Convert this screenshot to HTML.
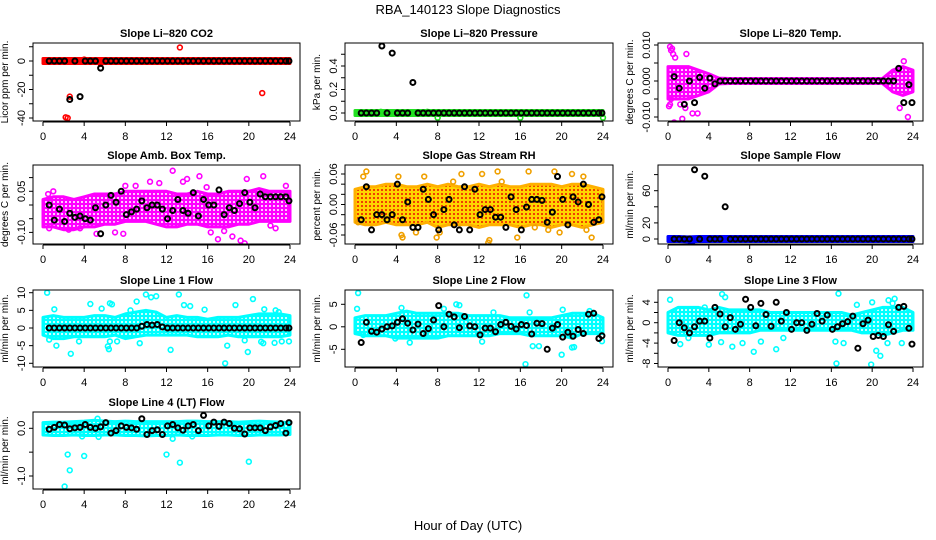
<!DOCTYPE html>
<html><head><meta charset="utf-8"><style>
html,body{margin:0;padding:0;background:#fff}
svg{display:block;font-family:"Liberation Sans",sans-serif}
</style></head><body>
<svg id="chart" width="936" height="540" viewBox="0 0 936 540" xmlns="http://www.w3.org/2000/svg">
<text x="468" y="14" font-size="13" text-anchor="middle">RBA_140123  Slope Diagnostics</text>
<text x="468" y="530" font-size="13" text-anchor="middle">Hour of Day (UTC)</text>
</svg>
<script>
const blackT=[0.6,1.1,1.6,2.1,2.6,3.1,3.6,4.1,4.6,5.1,5.6,6.1,6.6,7.1,7.6,8.1,8.6,9.1,9.6,10.1,10.6,11.1,11.6,12.1,12.6,13.1,13.6,14.1,14.6,15.1,15.6,16.1,16.6,17.1,17.6,18.1,18.6,19.1,19.6,20.1,20.6,21.1,21.6,22.1,22.6,23.1,23.6,23.9];
const bandT=[0,1,2,3,4,5,6,7,8,9,10,11,12,13,14,15,16,17,18,19,20,21,22,23,24];
const xTicks=[0,4,8,12,16,20,24];

const co2Black=[0,0,0,0,-27,0,-25,0,0,0,-5,0,0,0,0,0,0,0,0,0,0,0,0,0,0,0,0,0,0,0,0,0,0,0,0,0,0,0,0,0,0,0,0,0,0,0,0,0];
const co2Lo=[-1.5,-1.5,-1.5,-1.5,-1.5,-1.5,-1.5,-1.5,-1.5,-1.5,-1.5,-1.5,-1.5,-1.5,-1.5,-1.5,-1.5,-1.5,-1.5,-1.5,-1.5,-1.5,-1.5,-1.5,-1.5];
const co2Hi=[1.5,1.5,1.5,1.5,1.5,1.5,1.5,1.5,1.5,1.5,1.5,1.5,1.5,1.5,1.5,1.5,1.5,1.5,1.5,1.5,1.5,1.5,1.5,1.5,1.5];
const co2OutX=[2.2,2.4,2.6,13.3,21.3,5.6,4.0];
const co2OutY=[-39.5,-40,-25,9.5,-22.5,-2,1];

const presBlack=[0,0,0,0,0.57,0,0.51,0,0,0,0.26,0,0,0,0,0,0,0,0,0,0,0,0,0,0,0,0,0,0,0,0,0,0,0,0,0,0,0,0,0,0,0,0,0,0,0,0,0];
const presLo=[-0.012,-0.012,-0.012,-0.012,-0.012,-0.012,-0.012,-0.012,-0.012,-0.012,-0.012,-0.012,-0.012,-0.012,-0.012,-0.012,-0.012,-0.012,-0.012,-0.012,-0.012,-0.012,-0.012,-0.012,-0.012];
const presHi=[0.012,0.012,0.012,0.012,0.012,0.012,0.012,0.012,0.012,0.012,0.012,0.012,0.012,0.012,0.012,0.012,0.012,0.012,0.012,0.012,0.012,0.012,0.012,0.012,0.012];
const presOutX=[8,16,24,2.5,7];
const presOutY=[-0.04,-0.04,-0.04,0.01,0.01];

const tempBlack=[0.0012,-0.002,-0.0065,0,-0.006,0.001,-0.002,0.0008,-0.0008,0,0,0,0,0,0,0,0,0,0,0,0,0,0,0,0,0,0,0,0,0,0,0,0,0,0,0,0,0,0,0,0,0,0,0,0.0035,-0.006,-0.001,-0.006];
const tempLo=[-0.005,-0.005,-0.005,-0.004,-0.003,-0.0008,-0.0007,-0.0007,-0.0007,-0.0007,-0.0007,-0.0007,-0.0007,-0.0007,-0.0007,-0.0007,-0.0007,-0.0007,-0.0007,-0.0007,-0.0007,-0.0007,-0.003,-0.004,-0.003];
const tempHi=[0.004,0.004,0.004,0.003,0.002,0.0008,0.0007,0.0007,0.0007,0.0007,0.0007,0.0007,0.0007,0.0007,0.0007,0.0007,0.0007,0.0007,0.0007,0.0007,0.0007,0.0007,0.003,0.004,0.003];
const tempOutX=[0.2,0.3,0.5,0.7,0.6,1.4,1.8,0.1,0.3,2.4,2.9,23.5,23.1,22.7,0.4,0.2,1.2,1.7];
const tempOutY=[0.0095,0.0085,0.0075,0.0065,-0.0115,-0.0105,0.0075,-0.007,-0.005,-0.009,-0.009,-0.010,0.0055,-0.0075,0.009,-0.0065,-0.0065,-0.0075];

const ambBlack=[0,-0.055,-0.015,-0.06,-0.03,-0.045,-0.04,-0.05,-0.055,-0.01,-0.105,0,0.035,0.01,0.05,-0.035,-0.025,-0.015,0.015,-0.01,0,0,-0.015,-0.05,-0.02,0.02,-0.02,-0.03,0.045,-0.04,0.02,0,0,0.055,-0.035,-0.01,-0.02,0.005,0.045,0.01,-0.01,0.04,0.03,0.03,0.03,0.03,0.03,0.015];
const ambLo=[-0.08,-0.08,-0.09,-0.09,-0.08,-0.08,-0.07,-0.07,-0.06,-0.06,-0.06,-0.07,-0.08,-0.08,-0.07,-0.07,-0.08,-0.08,-0.08,-0.07,-0.07,-0.06,-0.06,-0.06,-0.06];
const ambHi=[0.02,0.03,0.03,0.02,0.03,0.04,0.04,0.04,0.05,0.05,0.05,0.05,0.05,0.04,0.04,0.05,0.04,0.04,0.05,0.05,0.05,0.06,0.05,0.05,0.05];
const ambOutX=[0.6,5.2,7,7.8,12.6,15.2,21.4,19.8,14,10.4,17,18.4,19.2,19.6,22.1,22.6,3.6,23.6,8,9,1,0.5,2.5,16.3,17.6,11.3,13.6,15.9];
const ambOutY=[-0.085,-0.105,-0.1,-0.105,0.125,0.105,0.105,0.095,0.095,0.085,-0.125,-0.115,-0.13,-0.14,-0.075,-0.085,-0.085,0.07,0.07,0.07,0.05,0.04,-0.09,-0.1,-0.095,0.08,0.085,0.065];

const rhBlack=[-0.03,0.035,-0.05,-0.02,-0.02,-0.03,-0.02,0.04,-0.03,0.005,-0.045,-0.045,0.03,0.01,-0.02,-0.05,-0.01,0.01,-0.04,-0.05,0.035,-0.05,0.03,-0.02,-0.01,-0.01,-0.025,-0.025,-0.045,0.015,-0.01,-0.05,-0.005,0.01,0.01,0.008,-0.035,-0.015,0.055,0.01,-0.04,0.015,0.005,0.04,0,-0.035,-0.03,0.015];
const rhLo=[-0.035,-0.04,-0.04,-0.035,-0.04,-0.04,-0.04,-0.035,-0.045,-0.04,-0.04,-0.04,-0.045,-0.04,-0.04,-0.04,-0.045,-0.04,-0.04,-0.045,-0.04,-0.04,-0.045,-0.04,-0.035];
const rhHi=[0.03,0.035,0.035,0.04,0.04,0.035,0.035,0.04,0.035,0.04,0.035,0.035,0.04,0.035,0.04,0.035,0.035,0.04,0.04,0.04,0.035,0.04,0.04,0.035,0.03];
const rhOutX=[1.1,0.8,4.2,6.7,10.3,13.8,14.2,16.8,19.3,21,22.1,12.3,16.4,13,12.9,15.7,7.9,8.2,5.9,4.5,4.6,19.8,22.9,22.4,0.3,17.4,18.7,9.5];
const rhOutY=[0.065,0.055,0.055,0.055,0.06,0.065,0.045,0.065,0.065,0.06,0.055,0.06,-0.09,-0.07,-0.075,-0.065,-0.065,-0.055,-0.055,-0.06,-0.065,-0.055,-0.065,-0.05,-0.035,-0.045,-0.05,0.045];

const flowBlack=[0,0,0,0,86,0,78,0,0,0,40,0,0,0,0,0,0,0,0,0,0,0,0,0,0,0,0,0,0,0,0,0,0,0,0,0,0,0,0,0,0,0,0,0,0,0,0,0];
const flowLo=[-2,-2,-3,-2,-2,-2,-2,-2,-2,-2,-2,-2,-2,-2,-2,-2,-2,-2,-2,-2,-2,-2,-2,-2,-2];
const flowHi=[2,2,2,2,2,2,2,2,2,2,2,2,2,2,2,2,2,2,2,2,2,2,2,2,2];
const flowOutX=[2.2,2.4];
const flowOutY=[-3,-3];

const l1Black=[0,0,0,0,0,0,0,0,0,0,0,0,0,0,0,0,0,0,0.5,1,0.8,1,0.3,0,0,0,0,0,0,0,0,0,0,0,0,0,0,0,0,0,0,0,0,0,0,0,0,0];
const l1Lo=[-2,-3,-3,-2.5,-2.5,-2.5,-2.5,-2,-3,-2.5,-2,-2,-2,-2,-2,-2.5,-2.5,-2.5,-2,-2.5,-2.5,-2.5,-2.5,-2.5,-2];
const l1Hi=[3,3.5,3,3,3,3.5,3.5,3,4,4.5,5,4.5,3,3.5,3,3,2.5,3,3,3,3.5,4,4,4,3.5];
const l1OutX=[0.4,10,10.5,11,13.2,9.1,4.6,6.5,6.7,13.7,14.3,18.7,20.4,1.1,5.7,8.5,0.6,1.3,2.7,3.5,6.3,6.4,6.5,7.2,9.4,12.4,17.7,17.9,19.9,19.6,21.2,21.4,22.5,23.2,23.9,22.6,21.5,15.7,22.9];
const l1OutY=[10,9.5,8.7,9,9.5,7.5,6.8,7,6.7,6.5,6.2,6.5,8.2,5.3,5.5,5,-3.3,-5,-7.3,-3.8,-5.2,-6,-3.8,-3.8,-4.3,-6.2,-10,-5,-6.8,-3.5,-3.9,-4.3,-4.2,-3.8,-3.8,5,5.3,5.2,4.5];

const l2Black=[-3.5,1,-1,-1.2,-0.5,0,0.2,1,1.8,0.8,-0.7,0.6,-1.5,-0.4,1.5,4.7,0,2.8,2.2,-0.2,2.3,0.2,0,-1.8,-0.3,-0.3,-1.1,0.5,1,0.1,-0.5,0.5,0.3,-1.6,0.8,0.7,-5,-0.3,0.5,-2.3,-1.2,-2.1,-0.6,-1.5,2.8,3,-2.6,-2];
const l2Lo=[-1.5,-2,-2,-2,-2.5,-2.5,-2.5,-2.5,-2.5,-2,-2,-2,-2,-2,-1.5,-1.5,-1.5,-2,-2,-2,-2,-2.5,-1.5,-1.5,-1.5];
const l2Hi=[2,2.5,2.5,2.5,3,3.5,3,3,3,3,3,2.5,2.5,2.5,2.5,2,2,2,2,2,2.5,3,3,3,2];
const l2OutX=[0.3,0.2,16.6,16.5,20,9.8,10.1,17.2,17.8,21,21.2,12.3,5.3,16.9,20.1,0.8,23.9,22.7,4.5,13.4,8.6,3.9];
const l2OutY=[7.5,4,7,-8.3,-6.2,5,4.8,-4.3,-4.3,-4.6,-4.5,-3.3,-3.5,3.2,3.8,-1.8,-3.2,3.5,4.2,3.2,4,-2.6];

const l3Black=[-3.5,0,-1,-2,-0.8,0.3,0.3,-3,3,1.7,-0.8,1,-1.3,-0.3,4.6,3,-0.6,3.8,1.6,-0.7,4,0.3,2,-1.3,0,0,-1.5,-0.3,1.8,0.3,1.5,-1.3,-0.8,-0.2,0.2,1.3,-5,-0.2,0.5,-2.7,-2.5,-2.7,-0.4,-1.7,3,3.2,-1.1,-4.2];
const l3Lo=[-2,-2.5,-2.5,-2.5,-2.5,-2,-2,-2,-2,-1.5,-1.5,-1.5,-1.5,-1.5,-1.5,-1.5,-1.5,-1.5,-1.5,-2,-2,-2.5,-2,-1.5,-1.5];
const l3Hi=[2,3,3,3,2.5,3,2.5,2.5,2.5,2.5,2,2,2,2,2,2,2,2,1.5,2,2.5,3,3,3,2];
const l3OutX=[0.2,5.3,5.6,16.7,16.5,19.9,20.8,20.4,4,1.2,8.4,10.6,6.3,7.3,9.1,22.2,22,20,18.5,16.4,17.2,21.5,22.9,2,5.2,3.6,11.3,21.6];
const l3OutY=[4.5,5.6,5,5.7,-8,-8.2,-6.5,-5.5,-4.3,-4.2,-5.7,-5.2,-4.7,-4,-3.7,4.7,3.8,4,3.5,-3.7,-4,-4,-4,-3,-3.8,3,-3,4.4];

const l4Black=[-0.02,0.02,0.08,0.07,-0.01,0.01,0.02,0.08,0.02,0,0.03,0.12,-0.1,-0.05,0.05,0.02,0.01,-0.02,0.2,-0.13,-0.05,-0.03,-0.13,0.05,0.08,0.01,-0.04,0.05,0.08,-0.05,0.27,0.05,0.13,0.04,0.13,0.1,0,-0.01,-0.12,0.01,0.01,0.01,-0.05,0.03,0.06,0.1,-0.1,0.12];
const l4Lo=[-0.14,-0.15,-0.15,-0.14,-0.15,-0.15,-0.14,-0.14,-0.15,-0.15,-0.16,-0.15,-0.15,-0.14,-0.15,-0.15,-0.15,-0.14,-0.14,-0.15,-0.15,-0.14,-0.14,-0.14,-0.13];
const l4Hi=[0.12,0.13,0.13,0.14,0.15,0.17,0.15,0.14,0.15,0.14,0.14,0.14,0.14,0.14,0.15,0.15,0.14,0.14,0.14,0.13,0.14,0.15,0.14,0.13,0.12];
const l4OutX=[2.4,2.6,2.1,4,12,13.3,20,12.6,5.4,3.8,5.3,14.5];
const l4OutY=[-0.55,-0.88,-1.22,-0.58,-0.55,-0.72,-0.7,-0.22,-0.18,-0.17,0.2,-0.17];

const panels=[
 {id:'co2',title:'Slope Li\u2013820 CO2',ylab:'Licor ppm per min.',col:0,row:0,color:'#ff0000',kind:'solid',black:co2Black,lo:co2Lo,hi:co2Hi,ox:co2OutX,oy:co2OutY,ticks:[10,0,-10,-20,-30,-40],labels:['','0','','-20','','-40'],ref:[0,61,-40,118]},
 {id:'pressure',title:'Slope Li\u2013820 Pressure',ylab:'kPa per min.',col:1,row:0,color:'#22e022',kind:'solid',black:presBlack,lo:presLo,hi:presHi,ox:presOutX,oy:presOutY,ticks:[0,0.1,0.2,0.3,0.4,0.5],labels:['0.0','','0.2','','0.4',''],ref:[0,113,0.4,66]},
 {id:'temp',title:'Slope Li\u2013820 Temp.',ylab:'degrees C per min.',col:2,row:0,color:'#ff00ff',kind:'pat',black:tempBlack,lo:tempLo,hi:tempHi,ox:tempOutX,oy:tempOutY,ticks:[-0.01,-0.005,0,0.005,0.01],labels:['-0.010','','0.000','','0.010'],ref:[0,81,0.01,45]},
 {id:'ambbox',title:'Slope Amb. Box Temp.',ylab:'degrees C per min.',col:0,row:1,color:'#ff00ff',kind:'pat',black:ambBlack,lo:ambLo,hi:ambHi,ox:ambOutX,oy:ambOutY,ticks:[-0.1,-0.05,0,0.05,0.1],labels:['-0.10','','','0.05',''],ref:[0,205,0.05,191.3]},
 {id:'rh',title:'Slope Gas Stream RH',ylab:'percent per min.',col:1,row:1,color:'#ffd000',kind:'rh',black:rhBlack,lo:rhLo,hi:rhHi,ox:rhOutX,oy:rhOutY,ticks:[-0.06,-0.04,-0.02,0,0.02,0.04,0.06],labels:['-0.06','','','0.00','','','0.06'],ref:[0,204.5,0.06,174]},
 {id:'sampleflow',title:'Slope Sample Flow',ylab:'ml/min per min.',col:2,row:1,color:'#0000ff',kind:'solid',black:flowBlack,lo:flowLo,hi:flowHi,ox:flowOutX,oy:flowOutY,ticks:[0,20,40,60,80],labels:['0','20','','60',''],ref:[0,239,60,190.7]},
 {id:'line1',title:'Slope Line 1 Flow',ylab:'ml/min per min.',col:0,row:2,color:'#00ffff',kind:'pat',black:l1Black,lo:l1Lo,hi:l1Hi,ox:l1OutX,oy:l1OutY,ticks:[-10,-5,0,5,10],labels:['-10','-5','0','5','10'],ref:[0,328,10,292.7]},
 {id:'line2',title:'Slope Line 2 Flow',ylab:'ml/min per min.',col:1,row:2,color:'#00ffff',kind:'pat',black:l2Black,lo:l2Lo,hi:l2Hi,ox:l2OutX,oy:l2OutY,ticks:[-5,0,5],labels:['-5','0','5'],ref:[0,326.8,5,304.3]},
 {id:'line3',title:'Slope Line 3 Flow',ylab:'ml/min per min.',col:2,row:2,color:'#00ffff',kind:'pat',black:l3Black,lo:l3Lo,hi:l3Hi,ox:l3OutX,oy:l3OutY,ticks:[-8,-6,-4,-2,0,2,4],labels:['-8','','-4','','0','','4'],ref:[0,322.7,4,302.3]},
 {id:'line4',title:'Slope Line 4 (LT) Flow',ylab:'ml/min per min.',col:0,row:3,color:'#00ffff',kind:'pat',black:l4Black,lo:l4Lo,hi:l4Hi,ox:l4OutX,oy:l4OutY,ticks:[-1,-0.5,0],labels:['-1.0','','0.0'],ref:[0,428.3,-1,476]}
];
const cols=[{l:33,r:300,x0:43,x24:290},{l:345,r:613,x0:355,x24:603},{l:658,r:923,x0:668,x24:913}];
const rows=[{t:43,b:121},{t:165,b:244},{t:290,b:367},{t:412,b:489}];

const NS='http://www.w3.org/2000/svg';
const svg=document.getElementById('chart');
function mk(tag,attrs,parent){const e=document.createElementNS(NS,tag);for(const k in attrs)e.setAttribute(k,attrs[k]);(parent||svg).appendChild(e);return e;}
const defs=mk('defs',{});
function ringPattern(id,color,dot){
  const p=mk('pattern',{id:id,width:4,height:4,patternUnits:'userSpaceOnUse'},defs);
  mk('rect',{x:0,y:0,width:4,height:4,fill:color},p);
  mk('rect',{x:1,y:1,width:2,height:2,fill:dot},p);
}
ringPattern('pat-ff00ff','#ff00ff','#ffc8ff');
ringPattern('pat-00ffff','#00ffff','#c8ffff');
(function(){const p=mk('pattern',{id:'pat-rh',width:4,height:4,patternUnits:'userSpaceOnUse'},defs);
 mk('rect',{x:0,y:0,width:4,height:4,fill:'#ffd400'},p);
 mk('rect',{x:1,y:1,width:2,height:2,fill:'#f04000'},p);})();

panels.forEach(function(P){
  const C=cols[P.col],R=rows[P.row];
  const xS=function(h){return C.x0+(C.x24-C.x0)*h/24;};
  const k=(P.ref[3]-P.ref[1])/(P.ref[2]-P.ref[0]);
  const yS=function(v){return P.ref[1]+(v-P.ref[0])*k;};
  const g=mk('g',{});
  
  
  const cid='clip-'+P.id;
  const cp=mk('clipPath',{id:cid},defs);mk('rect',{x:C.l,y:R.t,width:C.r-C.l,height:R.b-R.t},cp);
  const t=mk('text',{x:(C.l+C.r)/2,y:R.t-6,'font-size':11,'font-weight':'bold','text-anchor':'middle'},g);
  t.textContent=P.title;
  
  
  const yl=mk('text',{x:0,y:0,'font-size':10,'text-anchor':'middle',transform:'translate('+(C.l-25)+','+((R.t+R.b)/2)+') rotate(-90)'},g);
  yl.textContent=P.ylab;
  
  
  const plot=mk('g',{'clip-path':'url(#'+cid+')'},g);
  
  
  let pts=[];
  for(let i=0;i<bandT.length;i++){let a=yS(P.hi[i]),b=yS(P.lo[i]);const m=(a+b)/2;if(Math.abs(b-a)<5){a=m-2.5;b=m+2.5;}pts.push([xS(bandT[i]),Math.min(a,b)]);}
  let low=[];
  for(let i=bandT.length-1;i>=0;i--){let a=yS(P.hi[i]),b=yS(P.lo[i]);const m=(a+b)/2;if(Math.abs(b-a)<5){a=m-2.5;b=m+2.5;}low.push([xS(bandT[i]),Math.max(a,b)]);}
  const fill=P.kind==='solid'?P.color:(P.kind==='rh'?'url(#pat-rh)':'url(#pat-'+P.color.slice(1)+')');
  const band=mk('polygon',{points:pts.concat(low).map(function(p){return p[0].toFixed(1)+','+p[1].toFixed(1);}).join(' '),fill:fill,stroke:P.kind==='rh'?'#ffb000':P.color,'stroke-width':3,'stroke-linejoin':'round'},plot);
  
  
  for(let i=0;i<P.ox.length;i++){
    const c=mk('circle',{cx:xS(P.ox[i]),cy:yS(P.oy[i]),r:2.4,fill:'none',stroke:P.kind==='rh'?'#f0a000':P.color,'stroke-width':1.6},plot);
    
    
  }
  for(let i=0;i<blackT.length;i++){
    const c=mk('circle',{cx:xS(blackT[i]),cy:yS(P.black[i]),r:2.5,fill:'none',stroke:'#000','stroke-width':2},plot);
    
    
  }
  const box=mk('rect',{x:C.l,y:R.t,width:C.r-C.l,height:R.b-R.t,fill:'none',stroke:'#000','stroke-width':1},g);
  
  
  P.ticks.forEach(function(v,i){
    const y=yS(v);
    mk('line',{x1:C.l-4,x2:C.l,y1:y,y2:y,stroke:'#000'},g);
    if(P.labels[i]){const tl=mk('text',{x:0,y:0,'font-size':11,'text-anchor':'middle',transform:'translate('+(C.l-8)+','+y+') rotate(-90)'},g);
      tl.textContent=P.labels[i];
      
      }
  });
  mk('line',{x1:xS(0),x2:xS(24),y1:R.b+1,y2:R.b+1,stroke:'#000'},g);
  xTicks.forEach(function(h){
    mk('line',{x1:xS(h),x2:xS(h),y1:R.b+1,y2:R.b+5,stroke:'#000'},g);
    const tl=mk('text',{x:xS(h),y:R.b+19,'font-size':11,'text-anchor':'middle'},g);
    tl.textContent=String(h);
    
    
  });
});
</script>
</body></html>
